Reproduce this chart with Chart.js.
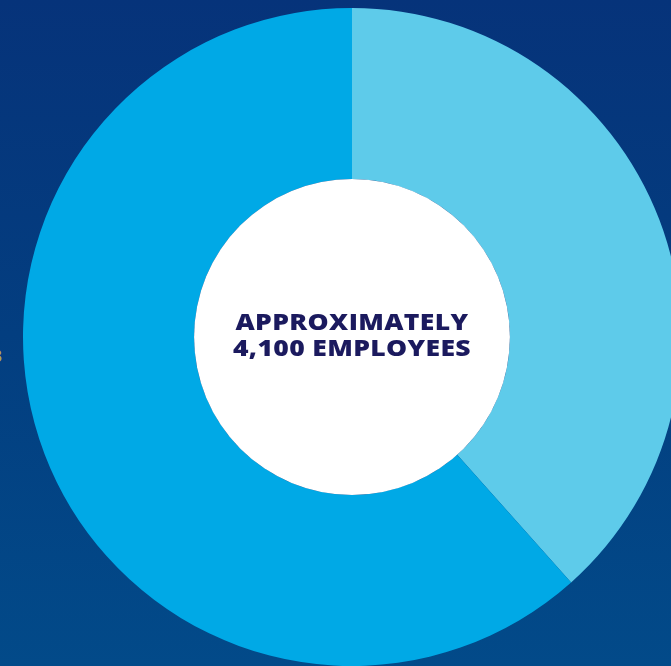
<!DOCTYPE html>
<html>
<head>
<meta charset="utf-8">
<script src="https://cdn.jsdelivr.net/npm/chart.js@4"></script>
<style>
  html, body { margin: 0; padding: 0; width: 671px; height: 666px; overflow: hidden; }
  body { background: linear-gradient(to bottom, #06337a 0%, #033e80 50%, #024a89 100%); position: relative; }
  #wrap { position: absolute; left: 23px; top: 8px; width: 658px; height: 658px; }
  #center { position: absolute; left: 194px; top: 308px; width: 316px; text-align: center;
    font-family: "Open Sans", "Noto Sans", sans-serif; font-weight: 800; font-size: 23.5px; line-height: 26px;
    color: #1b1a5e; letter-spacing: 0.3px; transform-origin: 158px 0; white-space: nowrap; }
  #edge { position: absolute; left: -7px; top: 345px; font-family: "Open Sans", sans-serif; font-size: 16px; color: #b7b13a; }
</style>
</head>
<body>
<div id="wrap"><canvas id="c" width="658" height="658"></canvas></div>
<div id="edge">3</div>
<div id="center"><span id="l1">APPROXIMATELY</span><br><span>4,100 EMPLOYEES</span></div>
<script>
const categories = ["Group A", "Group B"];
const values = [38.4, 61.6];
const colors = ["#5ecbea", "#00a9e6"];

const innerFill = {
  id: 'innerFill',
  afterDatasetsDraw(chart) {
    const meta = chart.getDatasetMeta(0);
    const arc = meta.data[0];
    if (!arc) return;
    const ctx = chart.ctx;
    ctx.save();
    ctx.beginPath();
    ctx.arc(arc.x, arc.y, arc.innerRadius, 0, Math.PI * 2);
    ctx.fillStyle = "#ffffff";
    ctx.fill();
    ctx.restore();
  }
};

new Chart(document.getElementById('c'), {
  type: 'doughnut',
  data: {
    labels: categories,
    datasets: [{ data: values, backgroundColor: colors, borderWidth: 0 }]
  },
  options: {
    responsive: false,
    animation: false,
    cutout: '48%',
    layout: { padding: 0 },
    plugins: { legend: { display: false }, tooltip: { enabled: false } }
  },
  plugins: [innerFill]
});

const w = document.getElementById('l1').getBoundingClientRect().width;
document.getElementById('center').style.transform = 'scaleX(' + (233 / w) + ')';
</script>
</body>
</html>
